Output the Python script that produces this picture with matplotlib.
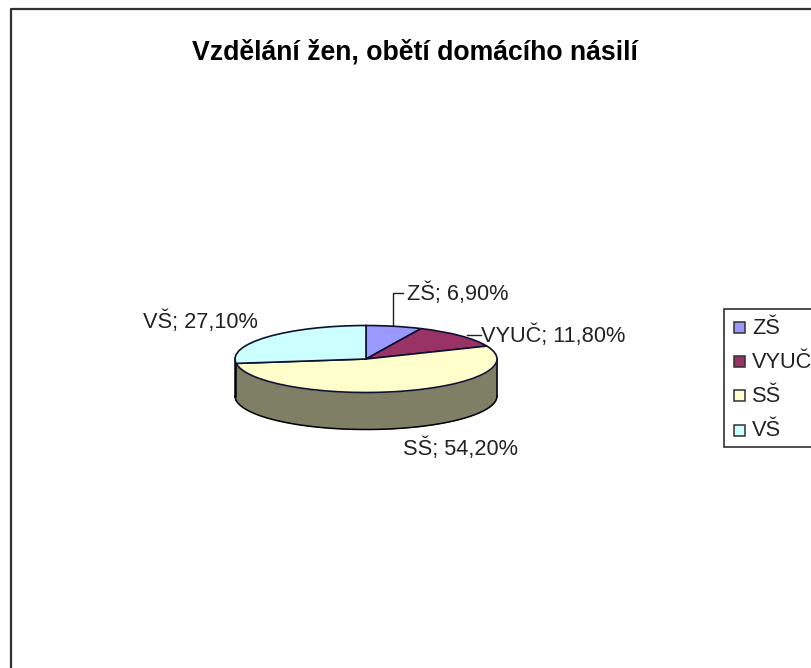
import numpy as np
import matplotlib
matplotlib.use("Agg")
import matplotlib.pyplot as plt
from matplotlib.patches import Rectangle

plt.rcParams['font.family'] = ['Liberation Sans', 'DejaVu Sans']

title = "Vzdělání žen, obětí domácího násilí"
categories = ["ZŠ", "VYUČ", "SŠ", "VŠ"]
values = [6.9, 11.8, 54.2, 27.1]
value_labels = ["6,90%", "11,80%", "54,20%", "27,10%"]
colors = ["#9999ff", "#993366", "#ffffcc", "#ccffff"]
side_colors = ["#4d4d80", "#4d1a33", "#7f7f66", "#3a4a4a"]
label_pos = [(407, 293.5), (481, 336), (403, 448.5), (143, 322)] # pixels, left edge of the text
legend_y = [327, 361, 395, 430]

W, H = 811, 668
fig = plt.figure(figsize=(W/100, H/100), dpi=100)

# whole figure axes in pixel coords, for border, text and legend
ax = fig.add_axes([0, 0, 1, 1])
ax.set_xlim(0, W)
ax.set_ylim(H, 0)
ax.axis('off')

# pie axes, unit circle gets squashed to the ellipse of the 3D pie
cx, cy, rx, ry = 366, 359, 131, 33.5
depth = 37/ry
xlim = (-1.3, 1.3)
ylim = (-1.3-depth, 1.3)
left = cx + xlim[0]*rx
top = cy - ylim[1]*ry
pw = (xlim[1]-xlim[0])*rx
ph = (ylim[1]-ylim[0])*ry
pie_ax = fig.add_axes([left/W, 1-(top+ph)/H, pw/W, ph/H])

# side wall, only the front part of each slice shows
edges = 360*np.cumsum([0]+values)/sum(values)
for i in range(len(values)):
    t1 = max(edges[i], 90)
    t2 = min(edges[i+1], 270)
    if t2 <= t1:
        continue
    t = np.radians(np.linspace(t1, t2, 80))
    x = np.sin(t)
    y = np.cos(t)
    pie_ax.fill_between(x, y, y-depth, color=side_colors[i], linewidth=0, zorder=1)
    pie_ax.plot(x, y-depth, color='black', lw=1.1, zorder=2)
pie_ax.plot([1, 1], [0, -depth], color='black', lw=1.1, zorder=2)
pie_ax.plot([-1, -1], [0, -depth], color='black', lw=1.8, zorder=2)

wedges, _ = pie_ax.pie(values, colors=colors, startangle=90, counterclock=False,
                       wedgeprops=dict(edgecolor='#101030', linewidth=1.2, zorder=3))
pie_ax.set_aspect('auto')
pie_ax.set_xlim(*xlim)
pie_ax.set_ylim(*ylim)
pie_ax.patch.set_alpha(0)

# chart border, runs off the right and bottom of the picture
ax.plot([11, 11, W+5], [H+5, 9, 9], color='#303030', lw=1.6)
ax.text(415, 53, title, fontsize=19.2, fontweight='bold', ha='center', va='center', color='black')

# data labels and leader lines
for cat, lab, pos in zip(categories, value_labels, label_pos):
    ax.text(pos[0], pos[1], cat+"; "+lab, fontsize=15.7, ha='left', va='center', color='#222222')
ax.plot([393, 393, 403], [325, 293, 293], color='#222222', lw=1)
ax.plot([467, 481], [335, 335], color='#222222', lw=1)

# legend box by hand, it is cut off by the right edge
ax.add_patch(Rectangle((724, 309), 120, 138, fc='white', ec='#303030', lw=1.2, clip_on=True))
for cat, col, y in zip(categories, colors, legend_y):
    ax.add_patch(Rectangle((733.5, y-5.5), 11, 11, fc=col, ec='#303030', lw=1.1, zorder=3))
    ax.text(752, y+1, cat, fontsize=15.7, ha='left', va='center', color='#222222', zorder=3)

fig.savefig("out.png", dpi=100)
